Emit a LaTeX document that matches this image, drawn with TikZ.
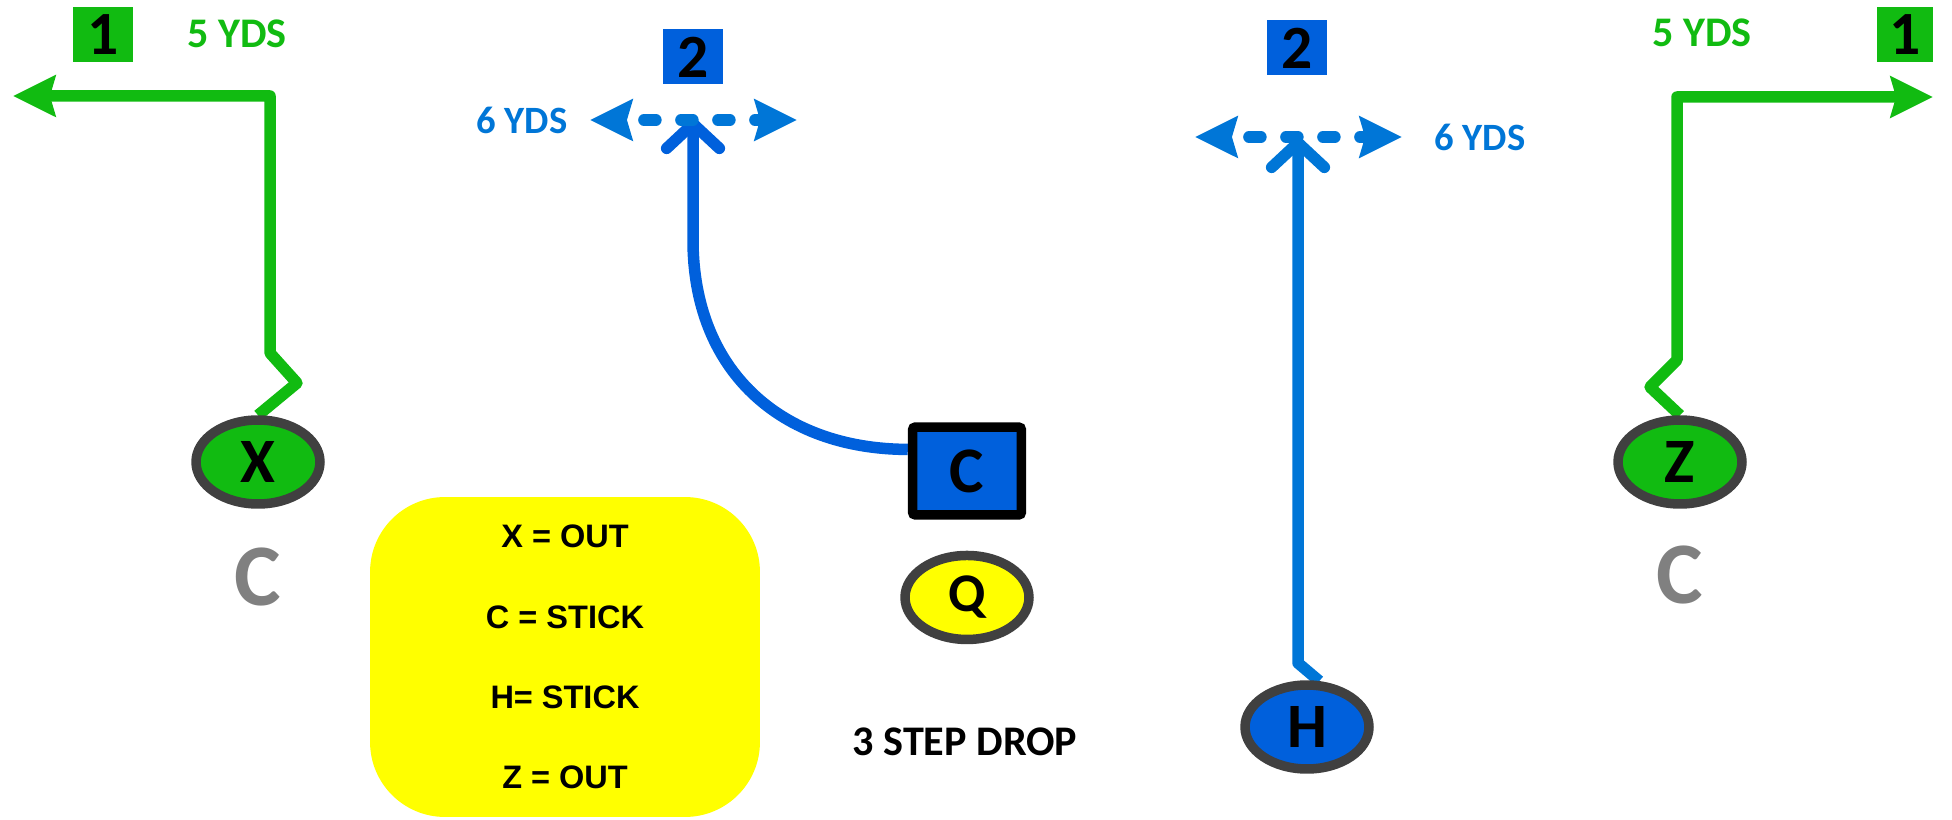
\documentclass[tikz,border=0pt]{standalone}
\usepackage{fontspec}
\setmainfont{Carlito}
\newfontfamily\keyfont{Liberation Sans}
\usetikzlibrary{positioning,arrows.meta,shapes.geometric,backgrounds}
\definecolor{routegreen}{RGB}{17,187,17}
\definecolor{playblue}{RGB}{0,96,220}
\definecolor{routeblue}{RGB}{0,118,215}
\definecolor{ringgray}{RGB}{64,64,64}
\definecolor{coveragegray}{RGB}{128,128,128}
\definecolor{keyyellow}{RGB}{255,255,0}
\tikzset{
	player/.style={ellipse,draw=ringgray,line width=1.9mm,minimum width=2.48cm,
		minimum height=1.68cm,inner sep=0pt,font=\fontsize{36}{36}\selectfont\bfseries},
	snap/.style={rectangle,draw=black,line width=1.9mm,rounded corners=0.6mm,fill=playblue,
		minimum width=2.18cm,minimum height=1.76cm,inner sep=0pt,font=\fontsize{37}{37}\selectfont\bfseries},
	readbox/.style={inner sep=0pt,minimum width=1.2cm,minimum height=1.1cm,
		font=\fontsize{35}{35}\selectfont\bfseries},
	yds/.style={inner sep=0pt,font=\fontsize{24}{24}\selectfont\bfseries},
	coverage/.style={inner sep=0pt,text=coveragegray,font=\fontsize{50}{50}\selectfont\bfseries},
	key/.style={fill=keyyellow,rounded corners=1.5cm,minimum width=7.8cm,minimum height=6.4cm,
		align=center,font=\keyfont\fontsize{18.5}{45.7}\selectfont\bfseries},
	route/.style={line width=2.3mm,line join=round,>={Stealth[length=24pt,width=23pt,inset=3pt]}},
	outroute/.style={route,routegreen,->},
	stickroute/.style={route,-{Straight Barb[length=14pt,width=30pt,round]}},
	option/.style={route,routeblue,<->,line cap=round,dash pattern=on 0.24cm off 0.5cm,
		dash phase=0.35cm}
}

\begin{document}
\begin{tikzpicture}[x=0.02cm,y=-0.02cm]
	\useasboundingbox (0,0) rectangle (1952,820);
	
	% players
	\node[player,fill=routegreen] (x) at (258,462) {X};
	\node[player,fill=routegreen] (z) at (1680,462) {Z};
	\node[player,fill=playblue] (h) at (1307,727) {H};
	\node[snap] (c) at (967,471) {C};
	\node[player,fill=keyyellow,font=\fontsize{31}{31}\selectfont\bfseries] (q) [below=0.62cm of c] {Q};
	\node[coverage] (xcov) at (258,577) {C};
	\node[coverage] (zcov) at (1680,575) {C};
	
	% reads and depths
	\node[readbox,fill=routegreen] (x1) at (103,35) {1};
	\node[readbox,fill=routegreen,minimum width=1.12cm] (z1) at (1905,35) {1};
	\node[readbox,fill=playblue] (c2) at (693,57) {2};
	\node[readbox,fill=playblue] (h2) at (1297,48) {2};
	\node[yds,text=routegreen] (xyds) at (237,34) {5 YDS};
	\node[yds,text=routegreen] (zyds) at (1702,33) {5 YDS};
	\node[yds,text=routeblue,font=\fontsize{22}{22}\selectfont\bfseries] (cyds) at (522,120) {6 YDS};
	\node[yds,text=routeblue,font=\fontsize{22}{22}\selectfont\bfseries] (hyds) at (1480,137) {6 YDS};
	
	\node[key] (call) at (565,657) {X = OUT\\C = STICK\\H= STICK\\Z = OUT};
	\node[yds] (drop) at (965,742) {3 STEP DROP};
	
	\coordinate (xout) at (13,96);
	\coordinate (zout) at (1933,97);
	\coordinate (cstick) at (693,118);
	\coordinate (hstick) at (1298,137);
	\coordinate (cleft) at (590,120);
	\coordinate (cright) at (797,120);
	\coordinate (hleft) at (1195,137);
	\coordinate (hright) at (1402,137);
	
	\begin{scope}[on background layer]
		\draw[outroute] (x.north) -- (297,383) -- (270,353) -- (270,96) -- (xout);
		\draw[outroute] (z.north) -- (1650,387) -- (1677,360) -- (1677,97) -- (zout);
		\draw[stickroute,playblue] (c.160) .. controls (780,449) and (693,370) .. (693,240) -- (cstick);
		\draw[stickroute,routeblue] (h.75) -- (1298,663) -- (hstick);
		\draw[option] (cleft) -- (cright);
		\draw[option] (hleft) -- (hright);
	\end{scope}
	
\end{tikzpicture}
\end{document}
